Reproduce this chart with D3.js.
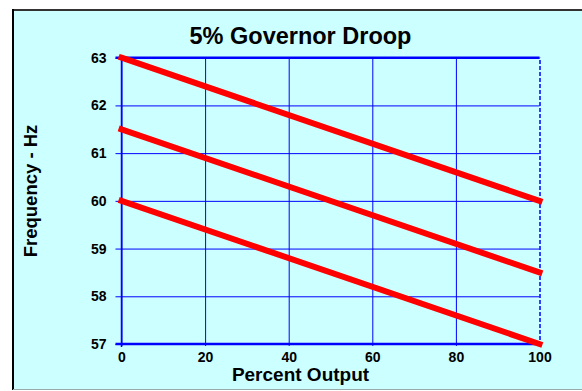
<!DOCTYPE html>
<html><head><meta charset="utf-8">
<script src="https://cdn.jsdelivr.net/npm/d3@7"></script>
<style>html,body{margin:0;padding:0;background:#fff;}svg{display:block;}</style>
</head><body>
<script>
const percentOutput = [0, 100];
const lineHigh = [63, 60];
const lineMid = [61.5, 58.5];
const lineLow = [60, 57];
const series = [lineHigh, lineMid, lineLow];
const xTicks = [0, 20, 40, 60, 80, 100];
const yTicks = [57, 58, 59, 60, 61, 62, 63];
const title = "5% Governor Droop";
const xTitle = "Percent Output";
const yTitle = "Frequency - Hz";

const W = 582, H = 391;
const font = "'Liberation Sans', Arial, sans-serif";
const svg = d3.select("body").append("svg").attr("width", W).attr("height", H);

// frame
svg.append("rect").attr("x", 13).attr("y", 10).attr("width", W - 13).attr("height", 380).attr("fill", "#ccffff");
svg.append("line").attr("x1", 13).attr("x2", W).attr("y1", 10).attr("y2", 10).attr("stroke", "#333").attr("stroke-width", 2);
svg.append("line").attr("x1", 13).attr("x2", 13).attr("y1", 9).attr("y2", 390).attr("stroke", "#000").attr("stroke-width", 2);
svg.append("line").attr("x1", 13).attr("x2", W).attr("y1", 389.5).attr("y2", 389.5).attr("stroke", "#99aaaa").attr("stroke-width", 1);

const x = d3.scaleLinear().domain([0, 100]).range([121.5, 539.5]);
const y = d3.scaleLinear().domain([57, 63]).range([344, 57.7]);

const g = svg.append("g");
// horizontal gridlines with left ticks
const yAxis = d3.axisLeft(y).tickValues(yTicks).tickSize(-(x(100) - x(0))).tickPadding(9).tickFormat(d3.format("d"));
const ya = g.append("g").attr("transform", `translate(${x(0)},0)`).call(yAxis);
ya.select(".domain").remove();
ya.selectAll(".tick line").attr("stroke", "#0000ff").attr("stroke-width", 1).attr("x1", -6);
ya.selectAll(".tick text").attr("font-family", font).attr("font-weight", "bold").attr("font-size", "14px").attr("fill", "#000").attr("x", -15);

// vertical gridlines
const xAxis = d3.axisBottom(x).tickValues(xTicks).tickSize(-(y(57) - y(63))).tickPadding(0).tickFormat(d3.format("d"));
const xa = g.append("g").attr("transform", `translate(0,${y(57)})`).call(xAxis);
xa.select(".domain").remove();
xa.selectAll(".tick line").attr("stroke", "#0000ff").attr("stroke-width", 1).attr("y1", 2);
xa.selectAll(".tick").filter(d => d === 100).select("line").attr("stroke-dasharray", "4,2").attr("stroke-width", 1.5);
xa.selectAll(".tick text").attr("font-family", font).attr("font-weight", "bold").attr("font-size", "14px").attr("fill", "#000").attr("y", 8).attr("dy", "0.71em");

// thick top and bottom borders
g.append("line").attr("x1", x(0) - 6).attr("x2", x(100)).attr("y1", y(63)).attr("y2", y(63)).attr("stroke", "#0000ff").attr("stroke-width", 2.5);
g.append("line").attr("x1", x(0) - 6).attr("x2", x(100)).attr("y1", y(57)).attr("y2", y(57)).attr("stroke", "#0000ff").attr("stroke-width", 2.5);
g.append("line").attr("x1", x(0)).attr("x2", x(0)).attr("y1", y(63)).attr("y2", y(57) + 3).attr("stroke", "#0000ff").attr("stroke-width", 1.5);

// red lines
const line = d3.line().x((d, i) => x(percentOutput[i])).y(d => y(d));
g.selectAll(".droop").data(series).enter().append("path")
  .attr("d", d => line(d)).attr("fill", "none").attr("stroke", "#ff0000").attr("stroke-width", 6).attr("stroke-linecap", "square");

// titles
svg.append("text").attr("x", 300.5).attr("y", 44).attr("text-anchor", "middle")
  .attr("font-family", font).attr("font-weight", "bold").attr("font-size", "23.5px").text(title);
svg.append("text").attr("x", 300.5).attr("y", 380.5).attr("text-anchor", "middle")
  .attr("font-family", font).attr("font-weight", "bold").attr("font-size", "19px").text(xTitle);
svg.append("text").attr("transform", "translate(37,191) rotate(-90)").attr("text-anchor", "middle")
  .attr("font-family", font).attr("font-weight", "bold").attr("font-size", "18.5px").text(yTitle);
</script>
</body></html>
